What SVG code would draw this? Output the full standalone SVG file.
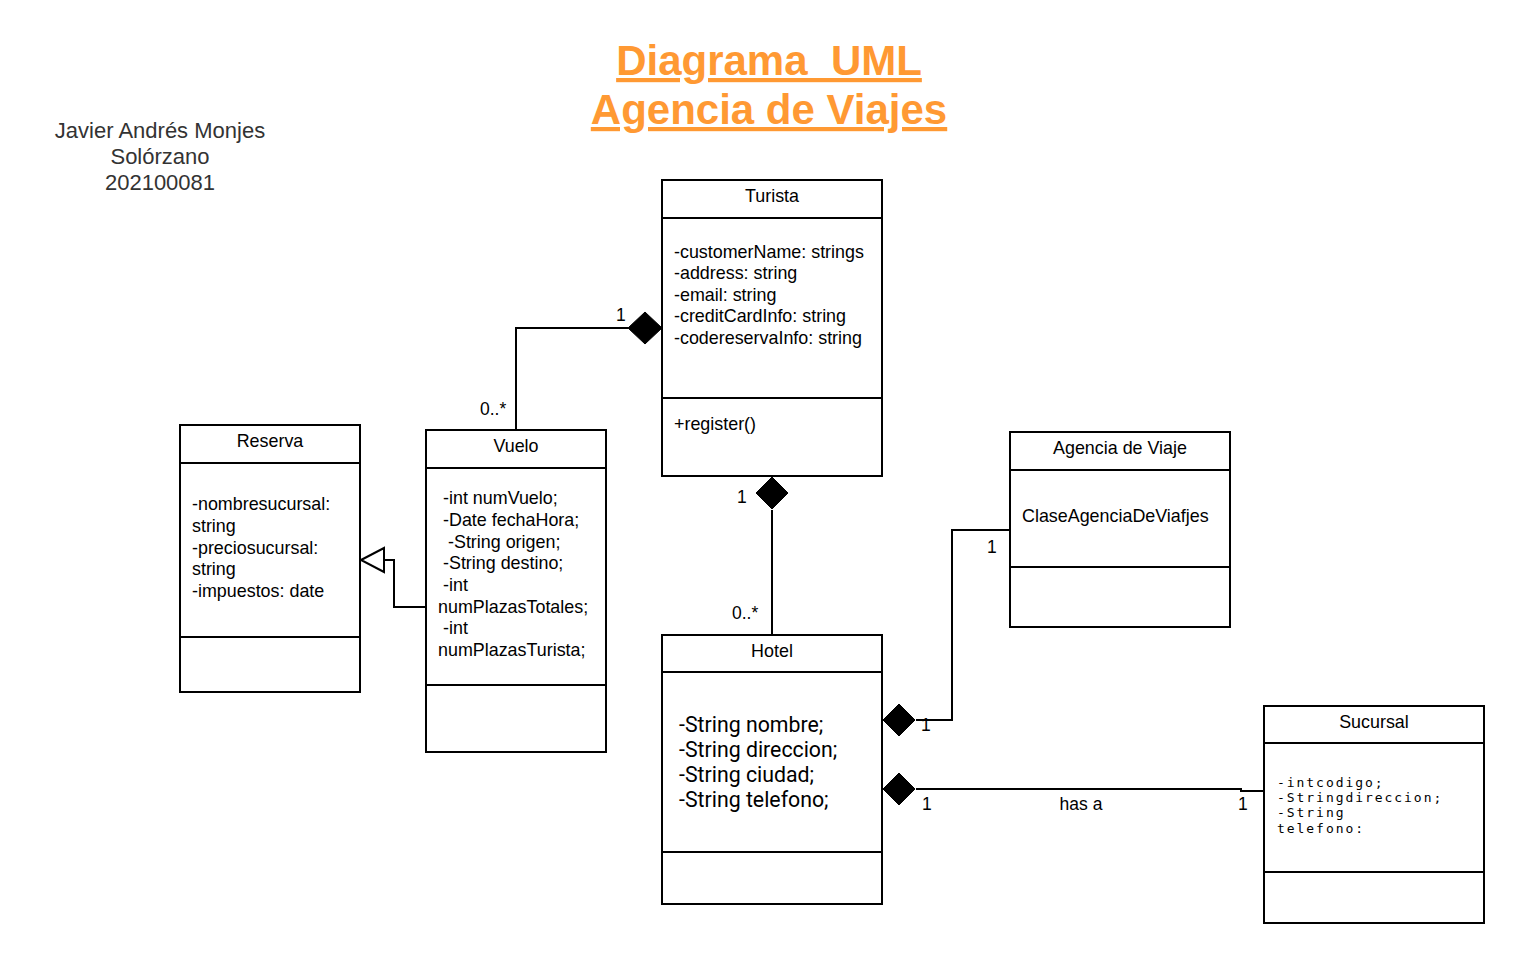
<svg xmlns="http://www.w3.org/2000/svg" width="1524" height="963" viewBox="0 0 1524 963">
<style>
.box{fill:#fff;stroke:#000;stroke-width:2}
.ln{stroke:#000;stroke-width:2;fill:none}
.t{font-family:"Liberation Sans",Arial,sans-serif;font-size:17.9px;fill:#000}
.c{text-anchor:middle}
.lbl{font-family:"Liberation Sans",Arial,sans-serif;font-size:17.5px;fill:#000}
.hot{font-family:Roboto,"Liberation Sans",sans-serif;font-size:21.3px;fill:#000}
.mono{font-family:"DejaVu Sans Mono",monospace;font-size:13px;fill:#000;letter-spacing:1.95px}
.title{font-family:"Liberation Sans",Arial,sans-serif;font-size:42px;font-weight:bold;fill:#FF9933;text-anchor:middle;text-decoration:underline}
.auth{font-family:"Liberation Sans",Arial,sans-serif;font-size:22px;fill:#333;text-anchor:middle}
.dia{fill:#000;stroke:#000;stroke-width:1}
</style>
<rect width="1524" height="963" fill="#fff"/>
<g id="title">
<text class="title" x="769" y="75">Diagrama&#160; UML</text>
<text class="title" x="769" y="124">Agencia de Viajes</text>
</g>
<g id="author">
<text class="auth" x="160" y="138">Javier Andrés Monjes</text>
<text class="auth" x="160" y="164">Solórzano</text>
<text class="auth" x="160" y="190">202100081</text>
</g>
<g id="connectors">
<polyline class="ln" points="628,328 516,328 516,430"/>
<polygon class="dia" points="662,328 645,312 628,328 645,344"/>
<text class="lbl" x="616" y="321">1</text>
<text class="lbl" x="480" y="415">0..*</text>
<line class="ln" x1="772" y1="510" x2="772" y2="635"/>
<polygon class="dia" points="772,477 788,493 772,509 756,493"/>
<text class="lbl" x="737" y="503">1</text>
<text class="lbl" x="732" y="619">0..*</text>
<polyline class="ln" points="384,560 394,560 394,607 426,607"/>
<polygon points="361,560 384,548 384,572" fill="#fff" stroke="#000" stroke-width="2"/>
<polyline class="ln" points="916,720 952,720 952,530 1010,530"/>
<polygon class="dia" points="883,720 899,704 915,720 899,736"/>
<text class="lbl" x="921" y="731">1</text>
<text class="lbl" x="987" y="553">1</text>
<polyline class="ln" points="916,789 1241,789 1241,791 1264,791"/>
<polygon class="dia" points="883,789 899,773 915,789 899,805"/>
<text class="lbl" x="922" y="810">1</text>
<text class="lbl c" x="1081" y="810">has a</text>
<text class="lbl" x="1238" y="810">1</text>
</g>
<g id="turista">
<rect class="box" x="662" y="180" width="220" height="296"/>
<line class="ln" x1="662" y1="218" x2="882" y2="218"/>
<line class="ln" x1="662" y1="398" x2="882" y2="398"/>
<text class="t c" x="772" y="202">Turista</text>
<text class="t" x="674" y="258">-customerName: strings</text>
<text class="t" x="674" y="279">-address: string</text>
<text class="t" x="674" y="301">-email: string</text>
<text class="t" x="674" y="322">-creditCardInfo: string</text>
<text class="t" x="674" y="344">-codereservaInfo: string</text>
<text class="t" x="674" y="430">+register()</text>
</g>
<g id="reserva">
<rect class="box" x="180" y="425" width="180" height="267"/>
<line class="ln" x1="180" y1="463" x2="360" y2="463"/>
<line class="ln" x1="180" y1="637" x2="360" y2="637"/>
<text class="t c" x="270" y="447">Reserva</text>
<text class="t" x="192" y="510">-nombresucursal:</text>
<text class="t" x="192" y="532">string</text>
<text class="t" x="192" y="554">-preciosucursal:</text>
<text class="t" x="192" y="575">string</text>
<text class="t" x="192" y="597">-impuestos: date</text>
</g>
<g id="vuelo">
<rect class="box" x="426" y="430" width="180" height="322"/>
<line class="ln" x1="426" y1="468" x2="606" y2="468"/>
<line class="ln" x1="426" y1="685" x2="606" y2="685"/>
<text class="t c" x="516" y="452">Vuelo</text>
<text class="t" x="443" y="504">-int numVuelo;</text>
<text class="t" x="443" y="526">-Date fechaHora;</text>
<text class="t" x="448" y="548">-String origen;</text>
<text class="t" x="443" y="569">-String destino;</text>
<text class="t" x="443" y="591">-int</text>
<text class="t" x="438" y="613">numPlazasTotales;</text>
<text class="t" x="443" y="634">-int</text>
<text class="t" x="438" y="656">numPlazasTurista;</text>
</g>
<g id="agencia">
<rect class="box" x="1010" y="432" width="220" height="195"/>
<line class="ln" x1="1010" y1="470" x2="1230" y2="470"/>
<line class="ln" x1="1010" y1="567" x2="1230" y2="567"/>
<text class="t c" x="1120" y="454">Agencia de Viaje</text>
<text class="t" x="1022" y="522">ClaseAgenciaDeViafjes</text>
</g>
<g id="hotel">
<rect class="box" x="662" y="635" width="220" height="269"/>
<line class="ln" x1="662" y1="672" x2="882" y2="672"/>
<line class="ln" x1="662" y1="852" x2="882" y2="852"/>
<text class="t c" x="772" y="657">Hotel</text>
<text class="hot" x="679" y="732">-String nombre;</text>
<text class="hot" x="679" y="757">-String direccion;</text>
<text class="hot" x="679" y="782">-String ciudad;</text>
<text class="hot" x="679" y="807">-String telefono;</text>
</g>
<g id="sucursal">
<rect class="box" x="1264" y="706" width="220" height="217"/>
<line class="ln" x1="1264" y1="743" x2="1484" y2="743"/>
<line class="ln" x1="1264" y1="872" x2="1484" y2="872"/>
<text class="t c" x="1374" y="728">Sucursal</text>
<text class="mono" x="1277" y="787">-intcodigo;</text>
<text class="mono" x="1277" y="802">-Stringdireccion;</text>
<text class="mono" x="1277" y="817">-String</text>
<text class="mono" x="1277" y="833">telefono:</text>
</g>
</svg>
